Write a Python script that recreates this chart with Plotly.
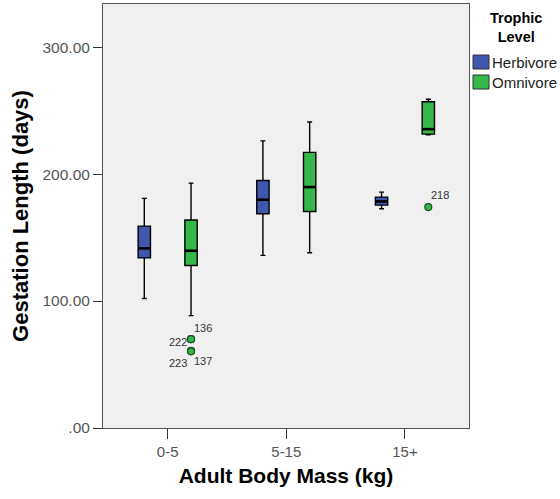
import plotly.graph_objects as go

categories = ["0-5", "5-15", "15+"]
groups = ["Herbivore", "Omnivore"]
colors = {"Herbivore": "#3F57AD", "Omnivore": "#34B84A"}

# stats per group: [0-5, 5-15, 15+]
lowerfence = {"Herbivore": [102.0, 136.0, 172.7], "Omnivore": [88.5, 138.0, 231.0]}
q1 = {"Herbivore": [134.0, 168.8, 175.6], "Omnivore": [128.0, 170.6, 231.5]}
median = {"Herbivore": [141.5, 179.8, 178.5], "Omnivore": [139.6, 189.8, 235.4]}
q3 = {"Herbivore": [159.0, 195.0, 181.9], "Omnivore": [163.8, 217.1, 257.0]}
upperfence = {"Herbivore": [180.9, 226.2, 185.8], "Omnivore": [192.9, 241.0, 259.0]}

# outliers (Omnivore)
out_cat = [0, 0, 0, 0, 2]
out_val = [70.0, 70.0, 60.8, 60.4, 174.0]
out_id = ["136", "222", "223", "137", "218"]
# label placement (xshift, yshift) in px relative to point
label_shift = [(12, 11), (-13, -3), (-13, -12), (12, -10), (12, 12)]

offset = {"Herbivore": -0.197, "Omnivore": 0.197}
box_w = 0.104

FONT = "Liberation Sans, Arial, sans-serif"
W, H = 560, 499
ML, MR, MT, MB = 103, 91, 4, 71


def px_x(px):
    return (px - ML) / (W - ML - MR)


def px_y(py):
    return (H - MB - py) / (H - MT - MB)


fig = go.Figure()
for g in groups:
    xs = [i + offset[g] for i in range(len(categories))]
    fig.add_trace(go.Box(
        x=xs, q1=q1[g], median=median[g], q3=q3[g],
        lowerfence=lowerfence[g], upperfence=upperfence[g],
        width=box_w, whiskerwidth=0.4,
        fillcolor=colors[g], line=dict(color="#000000", width=1.4),
        showlegend=False, hoverinfo="skip"))
    # thicker median lines
    mx, my = [], []
    for x, m in zip(xs, median[g]):
        mx += [x - box_w / 2, x + box_w / 2, None]
        my += [m, m, None]
    fig.add_trace(go.Scatter(x=mx, y=my, mode="lines",
                             line=dict(color="#000000", width=2.6),
                             showlegend=False, hoverinfo="skip"))

ox = [c + offset["Omnivore"] for c in out_cat]
fig.add_trace(go.Scatter(x=ox, y=out_val, mode="markers", showlegend=False,
                         marker=dict(size=7, color=colors["Omnivore"],
                                     line=dict(color="#1d4d22", width=1.2)),
                         hoverinfo="skip"))
for x, v, t, (dx, dy) in zip(ox, out_val, out_id, label_shift):
    fig.add_annotation(x=x, y=v, text=t, showarrow=False, xshift=dx, yshift=dy,
                       font=dict(size=11, color="#333333", family=FONT))

# legend (drawn in layout)
fig.add_annotation(xref="paper", yref="paper", x=px_x(516), y=px_y(27.5),
                   text="<b>Trophic<br>Level</b>",
                   showarrow=False, xanchor="center", yanchor="middle", align="center",
                   font=dict(size=14.5, color="#000000", family=FONT))
for i, g in enumerate(groups):
    top = 55 + i * 20
    fig.add_shape(type="rect", xref="paper", yref="paper",
                  x0=px_x(473), x1=px_x(489), y0=px_y(top + 14), y1=px_y(top),
                  fillcolor=colors[g], line=dict(color="#333333", width=1))
    fig.add_annotation(xref="paper", yref="paper", x=px_x(490), y=px_y(top + 7), text=g,
                       showarrow=False, xanchor="left", yanchor="middle",
                       font=dict(size=15, color="#222222", family=FONT))

fig.update_layout(
    width=W, height=H,
    margin=dict(l=ML, r=MR, t=MT, b=MB, autoexpand=False),
    paper_bgcolor="white", plot_bgcolor="#F0F0F0",
    font=dict(family=FONT, color="#333333"),
    showlegend=False,
)
fig.update_xaxes(range=[-0.545, 2.54], tickvals=list(range(len(categories))),
                 ticktext=categories, ticks="outside", ticklen=10, tickcolor="#333333",
                 showgrid=False, zeroline=False, showline=True, linecolor="#555555",
                 mirror=True, tickfont=dict(size=15, color="#555555"),
                 title=dict(text="<b>Adult Body Mass (kg)</b>", font=dict(size=21, color="#000000"),
                            standoff=9))
fig.update_yaxes(range=[0, 334], tickvals=[0, 100, 200, 300],
                 ticktext=[".00", "100.00", "200.00", "300.00"],
                 ticks="outside", ticklen=9, tickcolor="#333333",
                 showgrid=False, zeroline=False, showline=True, linecolor="#555555",
                 mirror=True, tickfont=dict(size=15.5, color="#555555"),
                 title=dict(text="<b>Gestation Length (days)</b>", font=dict(size=22, color="#000000"),
                            standoff=7))

fig.write_html("out.html")
